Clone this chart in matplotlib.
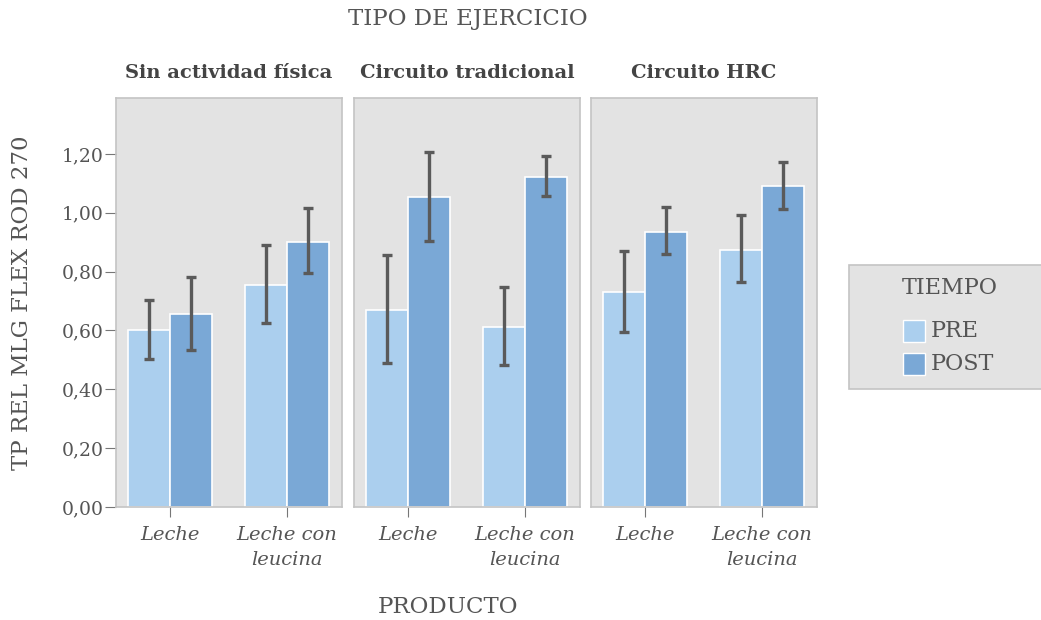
import numpy as np
import matplotlib.pyplot as plt
from matplotlib.patches import Rectangle

plt.rcParams['font.family'] = ['DejaVu Serif']

# Datos: media y límites del intervalo de error por panel
ejercicios = ['Sin actividad física', 'Circuito tradicional', 'Circuito HRC']
productos = ['Leche', 'Leche con\nleucina']
tiempos = ['PRE', 'POST']

pre = [[0.600, 0.755], [0.670, 0.613], [0.730, 0.874]]
pre_low = [[0.502, 0.627], [0.491, 0.481], [0.594, 0.763]]
pre_high = [[0.704, 0.891], [0.855, 0.749], [0.869, 0.993]]

post = [[0.655, 0.900], [1.052, 1.121], [0.934, 1.090]]
post_low = [[0.534, 0.795], [0.905, 1.058], [0.859, 1.014]]
post_high = [[0.781, 1.016], [1.205, 1.192], [1.019, 1.171]]

yticks = [0.0, 0.2, 0.4, 0.6, 0.8, 1.0, 1.2]
ytick_labels = ['0,00', '0,20', '0,40', '0,60', '0,80', '1,00', '1,20']

c_pre = '#abcfee'
c_post = '#7aa8d6'
c_bg = '#e3e3e3'
c_edge = '#c4c4c4'
c_txt = '#555555'
c_err = '#5a5a5a'

W, H = 1041, 620
fig = plt.figure(figsize=(W / 100, H / 100), dpi=100)

panel_left = [116, 354, 591]
panel_w = 226
y_bottom, y_top = 507, 98

x = np.arange(len(productos))
bw = 0.36

for i, ej in enumerate(ejercicios):
    ax = fig.add_axes([panel_left[i] / W, 1 - y_bottom / H, panel_w / W, (y_bottom - y_top) / H])
    ax.set_facecolor(c_bg)
    for s in ax.spines.values():
        s.set_color(c_edge)
        s.set_linewidth(1.2)

    ax.bar(x - bw / 2, pre[i], bw, color=c_pre, edgecolor='white', linewidth=1.2)
    ax.bar(x + bw / 2, post[i], bw, color=c_post, edgecolor='white', linewidth=1.2)

    for j in range(len(productos)):
        ax.errorbar(x[j] - bw / 2, pre[i][j],
                    yerr=[[pre[i][j] - pre_low[i][j]], [pre_high[i][j] - pre[i][j]]],
                    fmt='none', ecolor=c_err, elinewidth=2.4, capsize=3.6, capthick=2.4)
        ax.errorbar(x[j] + bw / 2, post[i][j],
                    yerr=[[post[i][j] - post_low[i][j]], [post_high[i][j] - post[i][j]]],
                    fmt='none', ecolor=c_err, elinewidth=2.4, capsize=3.6, capthick=2.4)

    ax.set_xlim(-0.46, 1.47)
    ax.set_ylim(0, 1.39)
    ax.set_xticks(x)
    ax.set_xticklabels(productos, style='italic', fontsize=14, color=c_txt, linespacing=1.45)
    ax.tick_params(axis='x', length=7, color='#777777', pad=7)

    if i == 0:
        ax.set_yticks(yticks)
        ax.set_yticklabels(ytick_labels, fontsize=13.5, color=c_txt)
        ax.tick_params(axis='y', length=8, color='#777777', pad=1)
    else:
        ax.set_yticks([])

    fig.text((panel_left[i] + panel_w / 2) / W, 1 - 73 / H, ej, ha='center', va='center',
             fontsize=14, fontweight='bold', color='#444444')

fig.text(468 / W, 1 - 19 / H, 'TIPO DE EJERCICIO', ha='center', va='center',
         fontsize=16.5, color=c_txt)
fig.text(448 / W, 1 - 607 / H, 'PRODUCTO', ha='center', va='center',
         fontsize=16.5, color=c_txt)
fig.text(22 / W, 1 - 303 / H, 'TP REL MLG FLEX ROD 270', ha='center', va='center',
         rotation=90, fontsize=16.5, color=c_txt)

# Leyenda dibujada a mano en coordenadas de píxel
fig.add_artist(Rectangle((849 / W, 1 - 389 / H), 200 / W, 124 / H,
                         transform=fig.transFigure, facecolor=c_bg, edgecolor=c_edge,
                         linewidth=1.2))
fig.text(950 / W, 1 - 288 / H, 'TIEMPO', ha='center', va='center',
         fontsize=16, color=c_txt)
for k, (lab, col) in enumerate(zip(tiempos, [c_pre, c_post])):
    yc = 331 + 33 * k
    fig.add_artist(Rectangle((903 / W, 1 - (yc + 11) / H), 22 / W, 22 / H,
                             transform=fig.transFigure, facecolor=col,
                             edgecolor='white', linewidth=1.0))
    fig.text(931 / W, 1 - yc / H, lab, ha='left', va='center',
             fontsize=16, color=c_txt)

fig.savefig('out.png', dpi=100)
